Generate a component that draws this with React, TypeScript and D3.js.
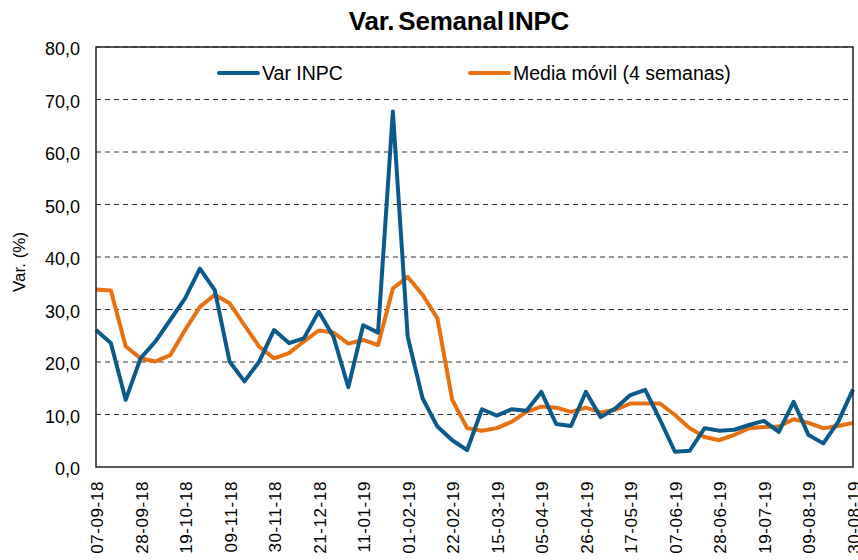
import React, { useEffect, useRef } from 'react';
import * as d3 from 'd3';

// weekly observations, 07-09-18 .. 30-08-19
const varInpc = [
  26.1, 23.6, 12.8, 20.7, 23.9, 28.0, 32.1, 37.8, 33.7, 20.1,
  16.3, 20.1, 26.1, 23.6, 24.5, 29.6, 24.8, 15.2, 27.0, 25.6,
  67.7, 24.8, 13.1, 7.7, 5.1, 3.2, 11.0, 9.8, 11.0, 10.7,
  14.3, 8.2, 7.8, 14.3, 9.5, 11.2, 13.7, 14.7, 9.0, 2.9,
  3.1, 7.4, 6.9, 7.1, 8.0, 8.8, 6.7, 12.4, 6.1, 4.5,
  8.6, 14.8,
];

const mediaMovil = [
  33.8, 33.6, 23.0, 20.7, 20.1, 21.3, 26.1, 30.5, 32.8, 31.2,
  27.0, 22.9, 20.7, 21.7, 23.9, 26.0, 25.6, 23.5, 24.2, 23.2,
  34.0, 36.2, 32.8, 28.3, 12.8, 7.4, 6.9, 7.4, 8.6, 10.5,
  11.5, 11.3, 10.5, 11.3, 10.4, 10.9, 12.1, 12.1, 12.1, 9.9,
  7.4, 5.7, 5.1, 6.1, 7.4, 7.6, 7.7, 9.1, 8.4, 7.4,
  7.8, 8.4,
];

const tickLabels = [
  '07-09-18', '28-09-18', '19-10-18', '09-11-18', '30-11-18', '21-12-18',
  '11-01-19', '01-02-19', '22-02-19', '15-03-19', '05-04-19', '26-04-19',
  '17-05-19', '07-06-19', '28-06-19', '19-07-19', '09-08-19', '30-08-19',
];

const yTicks = [0, 10, 20, 30, 40, 50, 60, 70, 80];

const BLUE = '#0B5A8C';
const ORANGE = '#E8700E';
const FONT = '"Liberation Sans", Arial, sans-serif';

const App = () => {
  const svgRef = useRef<SVGSVGElement>(null);

  useEffect(() => {
    const width = 858;
    const height = 560;
    const plot = { left: 96, right: 853, top: 47, bottom: 467 };

    const svg = d3.select(svgRef.current)
      .attr('width', width)
      .attr('height', height);
    svg.selectAll('*').remove();

    const x = d3.scaleLinear().domain([0, varInpc.length - 1]).range([plot.left, plot.right]);
    const y = d3.scaleLinear().domain([0, 80]).range([plot.bottom, plot.top]);

    svg.append('rect')
      .attr('width', width).attr('height', height).attr('fill', '#fff');

    // title
    svg.append('text')
      .attr('x', 459).attr('y', 30)
      .attr('text-anchor', 'middle')
      .attr('font-family', FONT)
      .attr('font-weight', 'bold')
      .attr('font-size', 26)
      .attr('word-spacing', -3)
      .attr('letter-spacing', -0.2)
      .text('Var. Semanal INPC');

    // grid
    svg.append('g')
      .selectAll('line')
      .data(yTicks.filter(d => d > 0))
      .join('line')
      .attr('x1', plot.left).attr('x2', plot.right)
      .attr('y1', d => y(d)).attr('y2', d => y(d))
      .attr('stroke', '#333')
      .attr('stroke-width', 1.2)
      .attr('stroke-dasharray', '5,4');

    // y axis labels
    svg.append('g')
      .selectAll('text')
      .data(yTicks)
      .join('text')
      .attr('x', 80)
      .attr('y', d => y(d) + 8)
      .attr('text-anchor', 'end')
      .attr('font-family', FONT)
      .attr('font-size', 18)
      .text(d => d3.format('.1f')(d).replace('.', ','));

    svg.append('text')
      .attr('transform', 'translate(25,262) rotate(-90)')
      .attr('text-anchor', 'middle')
      .attr('font-family', FONT)
      .attr('font-size', 17)
      .text('Var. (%)');

    // x labels
    svg.append('g')
      .selectAll('text')
      .data(tickLabels)
      .join('text')
      .attr('transform', (d, i) => `translate(${x(i * 3) + 7},${plot.bottom + 14}) rotate(-90)`)
      .attr('text-anchor', 'end')
      .attr('font-family', FONT)
      .attr('font-size', 17)
      .attr('letter-spacing', 0.6)
      .text(d => d);

    // series
    const line = d3.line<number>()
      .x((d, i) => x(i))
      .y(d => y(d));

    svg.append('path')
      .datum(mediaMovil)
      .attr('d', line)
      .attr('fill', 'none')
      .attr('stroke', ORANGE)
      .attr('stroke-width', 4)
      .attr('stroke-linejoin', 'round');

    svg.append('path')
      .datum(varInpc)
      .attr('d', line)
      .attr('fill', 'none')
      .attr('stroke', BLUE)
      .attr('stroke-width', 4)
      .attr('stroke-linejoin', 'round');

    // plot border
    svg.append('rect')
      .attr('x', plot.left).attr('y', plot.top)
      .attr('width', plot.right - plot.left)
      .attr('height', plot.bottom - plot.top)
      .attr('fill', 'none')
      .attr('stroke', '#222')
      .attr('stroke-width', 1.5);

    // legend
    const legend = [
      { name: 'Var INPC', color: BLUE, x: 219 },
      { name: 'Media móvil (4 semanas)', color: ORANGE, x: 470 },
    ];
    const lg = svg.append('g')
      .selectAll('g')
      .data(legend)
      .join('g')
      .attr('transform', d => `translate(${d.x},73)`);
    lg.append('line')
      .attr('x1', 0).attr('x2', 39)
      .attr('stroke', d => d.color)
      .attr('stroke-width', 4)
      .attr('stroke-linecap', 'round');
    lg.append('text')
      .attr('x', 43).attr('y', 7)
      .attr('font-family', FONT)
      .attr('font-size', 19.5)
      .text(d => d.name);
  }, []);

  return <svg ref={svgRef} style={{ position: 'absolute', left: 0, top: 0 }}></svg>;
};

export default App;
